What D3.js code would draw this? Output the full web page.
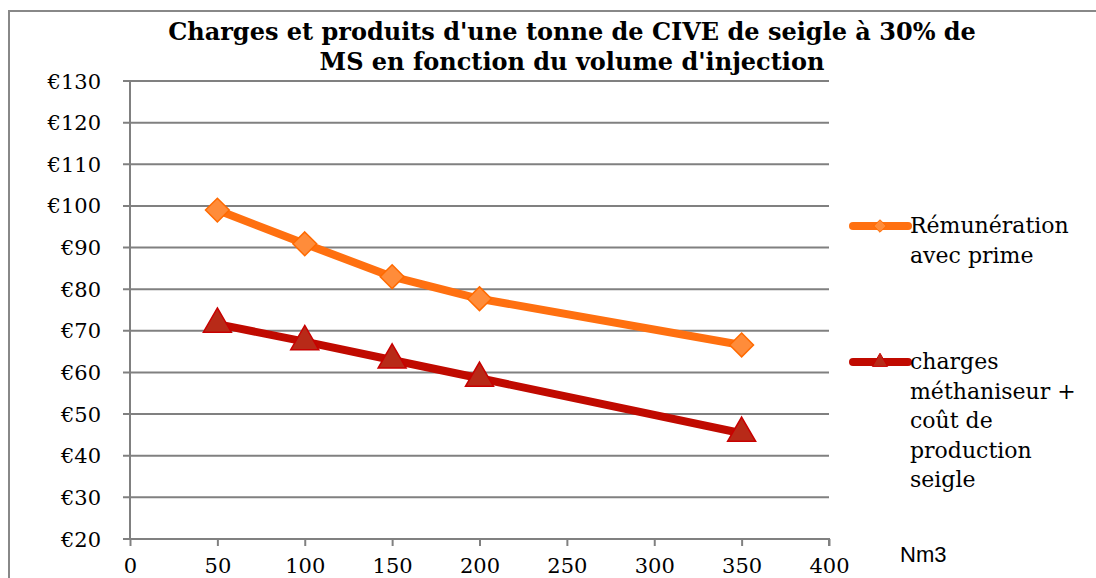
<!DOCTYPE html>
<html>
<head>
<meta charset="utf-8">
<script src="https://cdn.jsdelivr.net/npm/d3@7"></script>
<style>
  body { margin: 0; background: #fff; }
  svg { display: block; }
</style>
</head>
<body>
<svg id="chart"></svg>
<script>
// volumes d'injection (Nm3)
const volumes = [50, 100, 150, 200, 350];
const remuneration = [99, 90.9, 83, 77.7, 66.6];
const charges = [71.6, 67.4, 63, 58.6, 45.4];
const yTicks = [20, 30, 40, 50, 60, 70, 80, 90, 100, 110, 120, 130];
const xTicks = [0, 50, 100, 150, 200, 250, 300, 350, 400];
const titleLines = ["Charges et produits d'une tonne de CIVE de seigle à 30% de", "MS en fonction du volume d'injection"];
const legendRem = ["Rémunération", "avec prime"];
const legendCharges = ["charges", "méthaniseur +", "coût de", "production", "seigle"];

const width = 1096, height = 578;
const serif = "'DejaVu Serif', serif";
const orange = "#ff7010", red = "#c00a00";

const svg = d3.select("#chart").attr("width", width).attr("height", height);

// cadre
svg.append("path")
  .attr("d", "M9,578 V11 H1096")
  .attr("fill", "none")
  .attr("stroke", "#888")
  .attr("stroke-width", 2);

const x = d3.scaleLinear().domain([0, 400]).range([130, 829]);
const y = d3.scaleLinear().domain([20, 130]).range([539, 81]);

// grille
svg.append("g")
  .selectAll("line")
  .data(yTicks)
  .enter()
  .append("line")
  .attr("x1", 123).attr("x2", 829)
  .attr("y1", d => y(d)).attr("y2", d => y(d))
  .attr("stroke", "#808080")
  .attr("stroke-width", 2);

// axe Y
svg.append("line")
  .attr("x1", 130).attr("x2", 130)
  .attr("y1", y(130)).attr("y2", y(20))
  .attr("stroke", "#808080").attr("stroke-width", 2);

svg.append("g")
  .selectAll("text")
  .data(yTicks)
  .enter()
  .append("text")
  .attr("x", 101)
  .attr("y", d => y(d) + 7.5)
  .attr("text-anchor", "end")
  .style("font-family", serif)
  .style("font-size", "21px")
  .text(d => "€" + d);

// axe X
const xAxis = svg.append("g")
  .attr("transform", "translate(0," + y(20) + ")")
  .call(d3.axisBottom(x).tickValues(xTicks).tickSize(7).tickPadding(12).tickFormat(d => d));
xAxis.select(".domain").attr("stroke", "#808080").attr("stroke-width", 2)
  .attr("d", "M130,0H829V7");
xAxis.selectAll(".tick line").attr("stroke", "#808080").attr("stroke-width", 2);
xAxis.selectAll(".tick text")
  .style("font-family", serif)
  .style("font-size", "21px")
  .attr("fill", "#000");

svg.append("text")
  .attr("x", 900).attr("y", 562)
  .style("font-family", "'Liberation Sans', Arial, sans-serif")
  .style("font-size", "22px")
  .text("Nm3");

// titre
svg.append("g")
  .selectAll("text")
  .data(titleLines)
  .enter()
  .append("text")
  .attr("x", 572)
  .attr("y", (d, i) => 40 + i * 30)
  .attr("text-anchor", "middle")
  .style("font-family", serif)
  .style("font-weight", "bold")
  .style("font-size", "24px")
  .text(d => d);

const line = d3.line().x(d => x(d[0])).y(d => y(d[1]));
const remData = volumes.map((v, i) => [v, remuneration[i]]);
const chargesData = volumes.map((v, i) => [v, charges[i]]);

const diamond = d3.symbol().type(d3.symbolDiamond2).size(360);
const triangle = d3.symbol().type(d3.symbolTriangle).size(340);

function drawSeries(data, color, symbol, fill, stroke) {
  svg.append("path")
    .datum(data)
    .attr("d", line)
    .attr("fill", "none")
    .attr("stroke", color)
    .attr("stroke-width", 8)
    .attr("stroke-linejoin", "round");
  svg.append("g")
    .selectAll("path")
    .data(data)
    .enter()
    .append("path")
    .attr("transform", d => "translate(" + x(d[0]) + "," + y(d[1]) + ")")
    .attr("d", symbol)
    .attr("fill", fill)
    .attr("stroke", stroke)
    .attr("stroke-width", 1.5);
}
drawSeries(remData, orange, diamond, "#ff8c3a", "#ff6a00");
drawSeries(chargesData, red, triangle, "#b82a18", "#c80000");

// légende
function legend(ly, color, symbol, fill, stroke, lines, size) {
  svg.append("line")
    .attr("x1", 853).attr("x2", 908)
    .attr("y1", ly).attr("y2", ly)
    .attr("stroke", color).attr("stroke-width", 8)
    .attr("stroke-linecap", "round");
  svg.append("path")
    .attr("transform", "translate(880," + ly + ")")
    .attr("d", d3.symbol().type(symbol).size(size))
    .attr("fill", fill).attr("stroke", stroke).attr("stroke-width", 1);
  svg.append("g")
    .selectAll("text")
    .data(lines)
    .enter()
    .append("text")
    .attr("x", 910)
    .attr("y", (d, i) => ly + 7 + i * 29.5)
    .style("font-family", serif)
    .style("font-size", "22px")
    .text(d => d);
}
legend(226, orange, d3.symbolDiamond2, "#ff8c3a", "#ff6a00", legendRem, 100);
legend(362, red, d3.symbolTriangle, "#b82a18", "#c80000", legendCharges, 100);
</script>
</body>
</html>
